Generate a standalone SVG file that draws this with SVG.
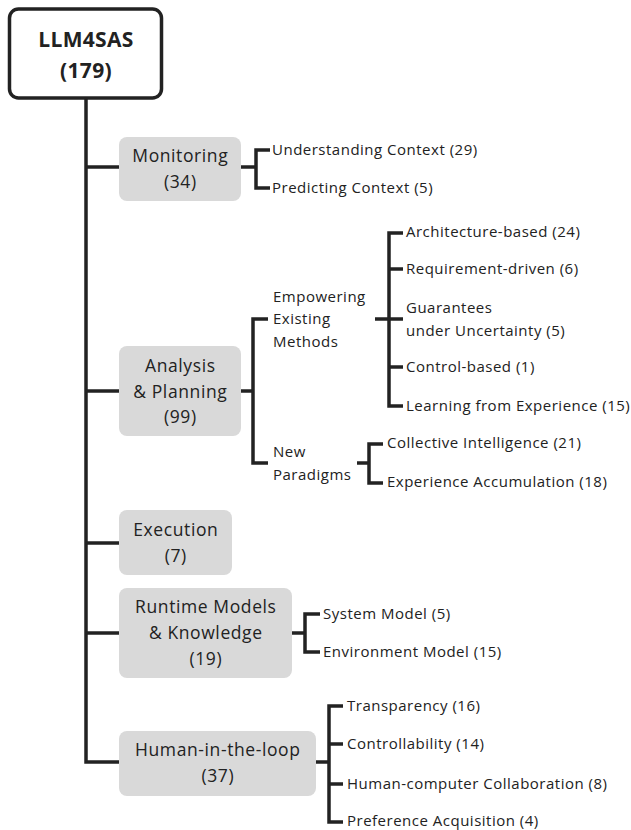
<svg xmlns="http://www.w3.org/2000/svg" width="631" height="830" viewBox="0 0 631 830">
<style>
  .ln{fill:none;stroke:#222;stroke-width:3.5;stroke-linejoin:miter;stroke-linecap:butt}
  .box{fill:#d9d9d9}
  .root{fill:#fff;stroke:#222;stroke-width:3.5}
  text{font-family:"Open Sans","Noto Sans","Liberation Sans",sans-serif;fill:#222}
  .rt{font-size:21px;font-weight:700;text-anchor:middle;letter-spacing:0.3px}
  .bt{font-size:17.5px;text-anchor:middle;letter-spacing:0.6px}
  .lt{font-size:15px;letter-spacing:0.5px}
</style>
<rect width="631" height="830" fill="#fff"/>
<g id="connectors">
  <path class="ln" d="M86 98 V762 H119"/>
  <path class="ln" d="M86 167 H119"/>
  <path class="ln" d="M86 391 H119"/>
  <path class="ln" d="M86 543 H119"/>
  <path class="ln" d="M86 633 H119"/>
  <path class="ln" d="M241 167 H256"/>
  <path class="ln" d="M270 150 H256 V188 H270"/>
  <path class="ln" d="M241 391 H253"/>
  <path class="ln" d="M268 319 H253 V463 H268"/>
  <path class="ln" d="M375 319 H403"/>
  <path class="ln" d="M403 233 H389 V406 H403"/>
  <path class="ln" d="M389 269 H403"/>
  <path class="ln" d="M389 367 H403"/>
  <path class="ln" d="M357 463 H369"/>
  <path class="ln" d="M383 444 H369 V483 H383"/>
  <path class="ln" d="M292 633 H305"/>
  <path class="ln" d="M320 614 H305 V652 H320"/>
  <path class="ln" d="M316 762 H329"/>
  <path class="ln" d="M343 706 H329 V822 H343"/>
  <path class="ln" d="M329 744 H343"/>
  <path class="ln" d="M329 784 H343"/>
</g>
<g id="root">
  <rect class="root" x="9.5" y="9" width="152" height="89" rx="9"/>
  <text class="rt" x="86" y="47">LLM4SAS</text>
  <text class="rt" x="86" y="78">(179)</text>
</g>
<g id="monitoring">
  <rect class="box" x="119" y="137" width="122" height="64" rx="8"/>
  <text class="bt" x="180.3" y="162">Monitoring</text>
  <text class="bt" x="180.3" y="188">(34)</text>
</g>
<g id="analysis">
  <rect class="box" x="119" y="346" width="122" height="90" rx="8"/>
  <text class="bt" x="180.3" y="372">Analysis</text>
  <text class="bt" x="180.3" y="398">&amp; Planning</text>
  <text class="bt" x="180.3" y="423">(99)</text>
</g>
<g id="execution">
  <rect class="box" x="119" y="510" width="113" height="65" rx="8"/>
  <text class="bt" x="175.8" y="536">Execution</text>
  <text class="bt" x="175.8" y="562">(7)</text>
</g>
<g id="runtime">
  <rect class="box" x="119" y="588" width="173" height="90" rx="8"/>
  <text class="bt" x="205.8" y="613">Runtime Models</text>
  <text class="bt" x="205.8" y="639">&amp; Knowledge</text>
  <text class="bt" x="205.8" y="665">(19)</text>
</g>
<g id="human">
  <rect class="box" x="119" y="731" width="197" height="65" rx="8"/>
  <text class="bt" x="217.8" y="756">Human-in-the-loop</text>
  <text class="bt" x="217.8" y="782">(37)</text>
</g>
<g id="understanding"><text class="lt" x="272" y="155">Understanding Context (29)</text></g>
<g id="predicting"><text class="lt" x="272" y="193">Predicting Context (5)</text></g>
<g id="empowering">
  <text class="lt" x="273" y="302">Empowering</text>
  <text class="lt" x="273" y="324">Existing</text>
  <text class="lt" x="273" y="347">Methods</text>
</g>
<g id="newparadigms">
  <text class="lt" x="273" y="457">New</text>
  <text class="lt" x="273" y="480">Paradigms</text>
</g>
<g id="architecture"><text class="lt" x="406" y="237">Architecture-based (24)</text></g>
<g id="requirement"><text class="lt" x="406" y="274">Requirement-driven (6)</text></g>
<g id="guarantees">
  <text class="lt" x="406" y="313">Guarantees</text>
  <text class="lt" x="406" y="336">under Uncertainty (5)</text>
</g>
<g id="control"><text class="lt" x="406" y="372">Control-based (1)</text></g>
<g id="learning"><text class="lt" x="406" y="411">Learning from Experience (15)</text></g>
<g id="collective"><text class="lt" x="387" y="448">Collective Intelligence (21)</text></g>
<g id="accumulation"><text class="lt" x="387" y="487">Experience Accumulation (18)</text></g>
<g id="system"><text class="lt" x="323" y="619">System Model (5)</text></g>
<g id="environment"><text class="lt" x="323" y="657">Environment Model (15)</text></g>
<g id="transparency"><text class="lt" x="347" y="711">Transparency (16)</text></g>
<g id="controllability"><text class="lt" x="347" y="749">Controllability (14)</text></g>
<g id="hcc"><text class="lt" x="347" y="789">Human-computer Collaboration (8)</text></g>
<g id="preference"><text class="lt" x="347" y="826">Preference Acquisition (4)</text></g>
</svg>
